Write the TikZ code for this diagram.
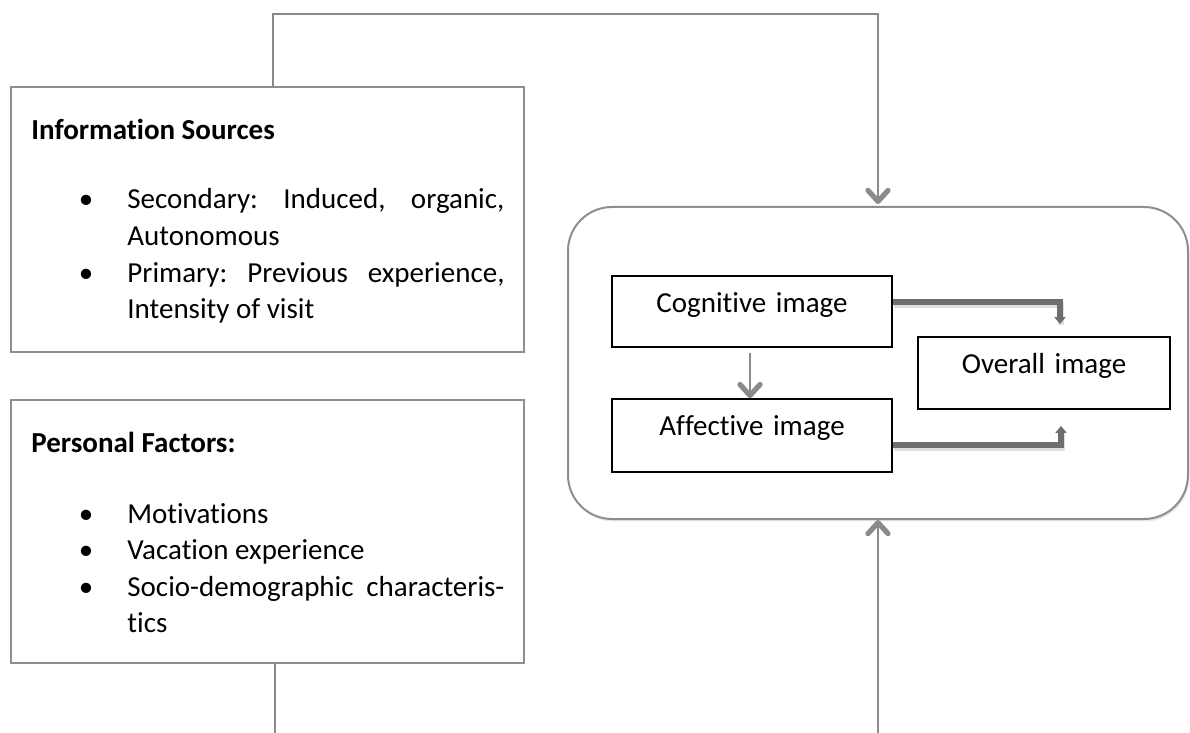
\documentclass[tikz,border=0pt]{standalone}
\usepackage{fontspec}
\setmainfont{Carlito}[Ligatures={NoCommon,NoRare}]
\frenchspacing
\usetikzlibrary{arrows.meta,shadows}
\definecolor{boxgray}{HTML}{8E8E8E}
\definecolor{conngray}{HTML}{8A8A8A}
\definecolor{heavygray}{HTML}{6E6E6E}
\begin{document}
\begin{tikzpicture}[x=0.5pt,y=-0.5pt,
  font=\fontsize{14.5pt}{18pt}\selectfont,
  txt/.style={inner sep=0pt},
  sidebox/.style={draw=boxgray, line width=1pt, rectangle, inner sep=0pt, fill=white},
  outerbox/.style={draw=boxgray, line width=1pt, rectangle, rounded corners=22pt, inner sep=0pt, fill=white,
    drop shadow={opacity=0.18, shadow xshift=0.7pt, shadow yshift=-1.2pt}},
  imgbox/.style={draw=black, line width=0.9pt, rectangle, inner xsep=0pt, inner ysep=0pt,
    text height=18pt, align=center},
  conn/.style={draw=conngray, line width=1pt, -{Straight Barb[length=5.5pt,width=10pt,line width=2.6pt,round]}},
  plainconn/.style={draw=conngray, line width=1pt},
  heavyarrow/.style={draw=heavygray, line width=2.6pt, -{Triangle[length=3.5pt,width=5.5pt]}},
  heavyshadow/.style={draw=black, opacity=0.12, line width=3pt, transform canvas={shift={(0.6pt,-1.3pt)}}}
]
\useasboundingbox (0,0) rectangle (1190,733);
\fill[white] (0,0) rectangle (1190,733);

% left boxes
\node[sidebox, minimum width=256.5pt, minimum height=132.5pt] (info) at (267.5,219.5) {};
\node[sidebox, minimum width=256.5pt, minimum height=131.5pt] (pers) at (267.5,531.5) {};

% information sources text
\node[txt, anchor=base west] (ihead) at (31,140) {\bfseries Informat\kern0pt ion Sources};
\node[txt, anchor=base] (ib1) at (86,209) {•};
\node[txt, anchor=base west] (il1) at (127,209) {\makebox[188.5pt][s]{Secondary: Induced, organic,}};
\node[txt, anchor=base west] (il2) at (127,245) {Autonomous};
\node[txt, anchor=base] (ib2) at (86,282) {•};
\node[txt, anchor=base west] (il3) at (127,282) {\makebox[188.5pt][s]{Primary: Previous experience,}};
\node[txt, anchor=base west] (il4) at (127,318) {Intensity of visit};

% personal factors text
\node[txt, anchor=base west] (phead) at (31,452) {\bfseries Personal Factors:};
\node[txt, anchor=base] (pb1) at (86,523) {•};
\node[txt, anchor=base west] (pl1) at (127,523) {Mot\kern0pt ivat\kern0pt ions};
\node[txt, anchor=base] (pb2) at (86,559) {•};
\node[txt, anchor=base west] (pl2) at (127,559) {Vacat\kern0pt ion experience};
\node[txt, anchor=base] (pb3) at (86,596) {•};
\node[txt, anchor=base west] (pl3) at (127,596) {\makebox[188.5pt][s]{Socio-demographic characteris-}};
\node[txt, anchor=base west] (pl4) at (127,632) {t\kern0pt ics};

% right rounded box
\node[outerbox, minimum width=310pt, minimum height=156pt] (outer) at (878,363) {};

% image boxes
\node[imgbox, text width=140pt, text depth=17.5pt] (cog) at (752,311.5) {Cognit\kern0pt ive image};
\node[imgbox, text width=140pt, text depth=18.5pt] (aff) at (752,435.5) {Af\kern0pt fect\kern0pt ive image};
\node[imgbox, text width=126pt, text depth=18pt] (over) at (1044,373) {Overall image};

% heavy arrows with faint shadows
\draw[heavyshadow] ([yshift=4.75pt]cog.east) -| ([xshift=8pt,yshift=7pt]over.north);
\draw[heavyshadow] ([yshift=-4.75pt]aff.east) -| ([xshift=8.5pt,yshift=-9pt]over.south);
\draw[heavyarrow] ([yshift=4.75pt]cog.east) -| ([xshift=8pt,yshift=6pt]over.north);
\draw[heavyarrow] ([yshift=-4.75pt]aff.east) -| ([xshift=8.5pt,yshift=-8pt]over.south);

% cognitive -> affective
\draw[conn, line width=0.8pt, shorten <=2.5pt] ([xshift=-1pt]cog.south) -- ([xshift=-1pt]aff.north);

% outer connectors
\draw[conn, shorten >=1pt] ([xshift=2.75pt]info.north) -- ++(0,-72) -| (outer.north);
\coordinate (pend) at (275,740);
\coordinate (oend) at (878,740);
\draw[plainconn] (pend |- pers.south) -- (pend);
\draw[conn] (oend) -- (outer.south);
\end{tikzpicture}
\end{document}
